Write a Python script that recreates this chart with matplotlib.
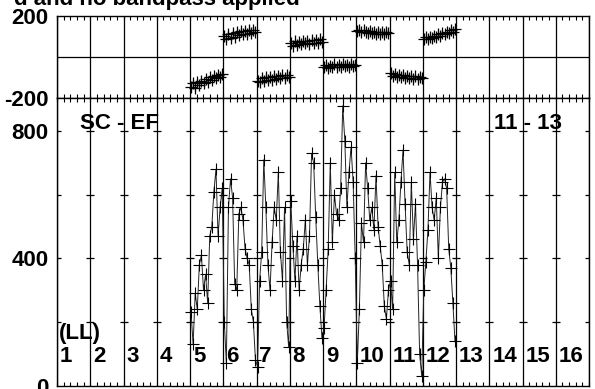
import matplotlib.pyplot as plt
import numpy as np

plt.rcParams['font.family'] = ['Liberation Sans', 'DejaVu Sans']
plt.rcParams['font.weight'] = 'bold'

# IF numbers that carry data, 16 channels each
data_ifs = [5, 6, 7, 8, 9, 10, 11, 12]
n_chan = 16
if_labels = [str(i) for i in range(1, 17)]

amp_if5 = [230, 130, 290, 240, 380, 410, 300, 350, 260, 470, 500, 610, 680, 470, 560, 620]
amp_if6 = [200, 70, 560, 650, 590, 320, 300, 540, 560, 520, 430, 400, 380, 240, 200, 80]
amp_if7 = [60, 330, 420, 710, 560, 380, 300, 450, 560, 520, 670, 420, 330, 560, 200, 120]
amp_if8 = [580, 440, 330, 470, 300, 380, 430, 520, 380, 470, 730, 700, 530, 380, 250, 150]
amp_if9 = [180, 300, 430, 700, 450, 600, 540, 520, 620, 880, 770, 560, 670, 750, 640, 400]
amp_if10 = [70, 240, 510, 450, 700, 620, 520, 560, 490, 660, 500, 440, 380, 250, 210, 300]
amp_if11 = [330, 240, 670, 450, 520, 640, 740, 570, 420, 380, 640, 460, 570, 380, 100, 30]
amp_if12 = [300, 390, 490, 670, 560, 520, 590, 400, 560, 640, 650, 620, 430, 370, 260, 140]

phase_if5 = [-145, -128, -150, -122, -135, -115, -128, -108, -120, -100, -112, -95, -104, -88, -98, -84]
phase_if6 = [102, 88, 112, 95, 116, 100, 122, 106, 126, 112, 128, 114, 130, 118, 132, 120]
phase_if7 = [-115, -124, -102, -116, -98, -112, -96, -110, -94, -106, -92, -104, -90, -102, -88, -100]
phase_if8 = [70, 56, 76, 60, 74, 62, 80, 66, 78, 64, 84, 70, 82, 68, 86, 74]
phase_if9 = [-50, -38, -54, -42, -48, -36, -50, -40, -47, -35, -46, -38, -49, -34, -45, -37]
phase_if10 = [126, 134, 120, 130, 124, 116, 128, 118, 124, 114, 123, 113, 122, 112, 121, 116]
phase_if11 = [-78, -92, -84, -96, -86, -100, -88, -102, -92, -104, -94, -106, -95, -108, -97, -102]
phase_if12 = [86, 96, 88, 100, 94, 104, 98, 110, 104, 116, 110, 122, 116, 130, 124, 136]

amp = np.concatenate([amp_if5, amp_if6, amp_if7, amp_if8, amp_if9, amp_if10, amp_if11, amp_if12])
phase = np.concatenate([phase_if5, phase_if6, phase_if7, phase_if8, phase_if9, phase_if10, phase_if11, phase_if12])
x = np.concatenate([(k - 1) + (np.arange(n_chan) + 0.5) / n_chan for k in data_ifs])

W, H = 595, 389
fig = plt.figure(figsize=(W / 100, H / 100), dpi=100)
left = 57 / W
width = (589 - 57) / W
ax1 = fig.add_axes([left, 1 - 98 / H, width, (98 - 16) / H])
ax2 = fig.add_axes([left, 1 - 385.6 / H, width, (385.6 - 98) / H])

for ax in (ax1, ax2):
    ax.set_xlim(0, 16)
    for b in range(17):
        ax.axvline(b, color='black', lw=0.9, zorder=1)
    ax.set_xticks(np.arange(0, 16.01, 0.2))
    ax.tick_params(axis='x', direction='in', top=True, bottom=True, length=3,
                   labelbottom=False, width=0.8)
    ax.tick_params(axis='y', length=0, labelsize=16, pad=6)
    for s in ax.spines.values():
        s.set_linewidth(1.0)

# phase panel
ax1.set_ylim(-200, 200)
ax1.axhline(0, color='black', lw=0.9)
ax1.set_yticks([-200, 200])
ax1.set_yticklabels(['-200', '200'], fontweight='bold')
ax1.errorbar(x, phase, yerr=14, fmt='+', color='black', ms=9, mew=0.9,
             elinewidth=0.9, capsize=0, zorder=3)

# amplitude panel
ax2.set_ylim(0, 904)
ax2.set_yticks([0, 400, 800])
ax2.set_yticklabels(['0', '400', '800'], fontweight='bold')
gx, gy = np.meshgrid(np.arange(17), [200, 400, 600, 800])
ax2.plot(gx.ravel(), gy.ravel(), '_', color='black', ms=6, mew=0.9, zorder=2)
ax2.plot(x, amp, '-', color='#222222', lw=0.7, zorder=3)
ax2.plot(x, amp, '+', color='black', ms=8, mew=0.8, zorder=3)

ax2.text(0.69, 824, 'SC - EF', fontsize=16, fontweight='bold', va='center', zorder=5)
ax2.text(13.15, 824, '11 - 13', fontsize=16, fontweight='bold', va='center', zorder=5)
ax2.text(0.06, 165, '(LL)', fontsize=16, fontweight='bold', va='center', zorder=5)
for i, lab in enumerate(if_labels):
    ax2.text(i + 0.09, 93, lab, fontsize=16, fontweight='bold', va='center', zorder=5)

fig.text(300 / W, 1 - 5 / H, 'd and no bandpass applied', fontsize=16,
         fontweight='bold', ha='right', va='baseline')

fig.savefig('out.png', dpi=100)
